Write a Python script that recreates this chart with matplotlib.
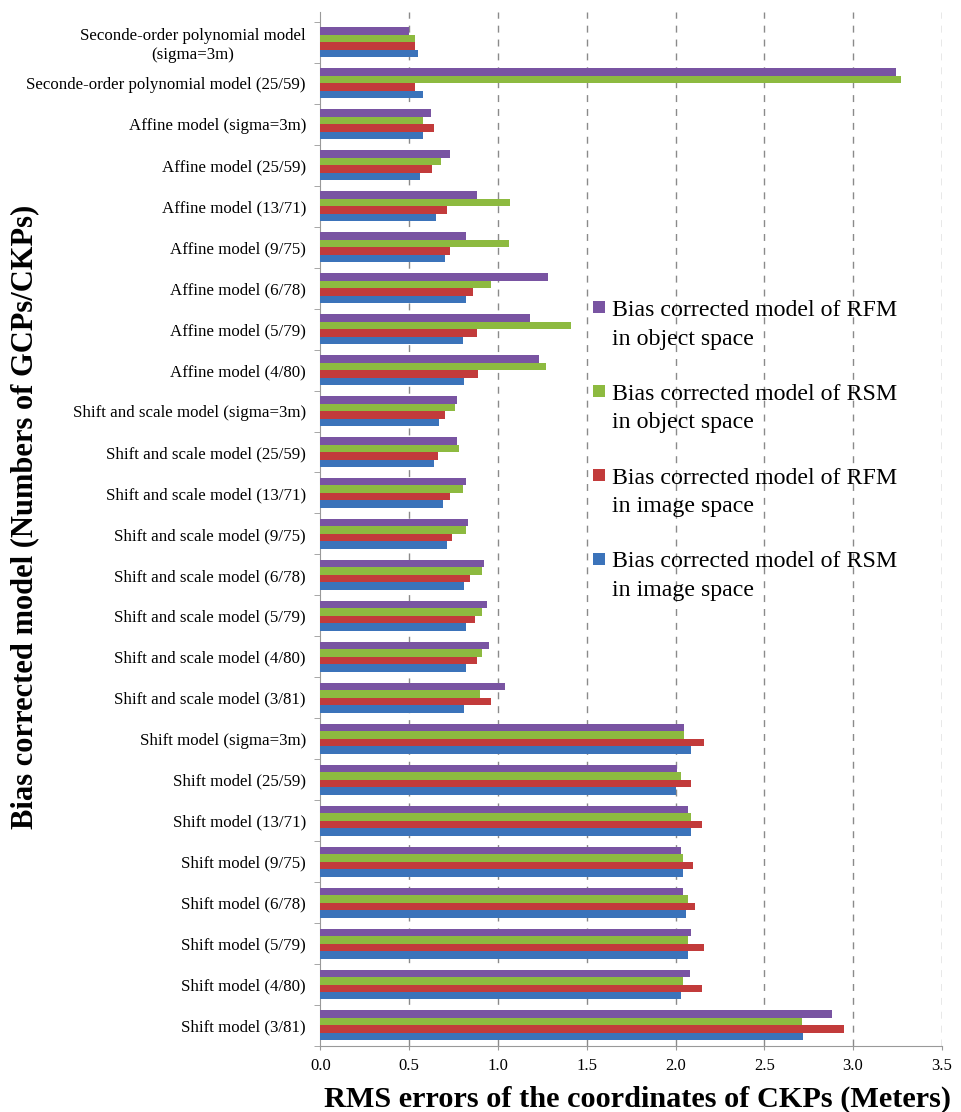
import numpy as np
import matplotlib
matplotlib.use("Agg")
import matplotlib.pyplot as plt
from matplotlib.patches import Rectangle
from matplotlib.legend_handler import HandlerPatch

plt.rcParams['font.family'] = ['Liberation Serif', 'DejaVu Serif']

# categories, top to bottom
modeller = [
    "Seconde-order polynomial model\n(sigma=3m)",
    "Seconde-order polynomial model (25/59)",
    "Affine model (sigma=3m)",
    "Affine model (25/59)",
    "Affine model (13/71)",
    "Affine model (9/75)",
    "Affine model (6/78)",
    "Affine model (5/79)",
    "Affine model (4/80)",
    "Shift and scale model (sigma=3m)",
    "Shift and scale model (25/59)",
    "Shift and scale model (13/71)",
    "Shift and scale model (9/75)",
    "Shift and scale model (6/78)",
    "Shift and scale model (5/79)",
    "Shift and scale model (4/80)",
    "Shift and scale model (3/81)",
    "Shift model (sigma=3m)",
    "Shift model (25/59)",
    "Shift model (13/71)",
    "Shift model (9/75)",
    "Shift model (6/78)",
    "Shift model (5/79)",
    "Shift model (4/80)",
    "Shift model (3/81)",
]

# RMS hatalari (metre)
rfm_obje = [0.50, 3.24, 0.62, 0.73, 0.88, 0.82, 1.28, 1.18, 1.23, 0.77, 0.77, 0.82, 0.83,
            0.92, 0.94, 0.95, 1.04, 2.05, 2.01, 2.07, 2.03, 2.04, 2.09, 2.08, 2.88]
rsm_obje = [0.53, 3.27, 0.58, 0.68, 1.07, 1.06, 0.96, 1.41, 1.27, 0.76, 0.78, 0.80, 0.82,
            0.91, 0.91, 0.91, 0.90, 2.05, 2.03, 2.09, 2.04, 2.07, 2.07, 2.04, 2.71]
rfm_goruntu = [0.53, 0.53, 0.64, 0.63, 0.71, 0.73, 0.86, 0.88, 0.89, 0.70, 0.66, 0.73, 0.74,
               0.84, 0.87, 0.88, 0.96, 2.16, 2.09, 2.15, 2.10, 2.11, 2.16, 2.15, 2.95]
rsm_goruntu = [0.55, 0.58, 0.58, 0.56, 0.65, 0.70, 0.82, 0.80, 0.81, 0.67, 0.64, 0.69, 0.71,
               0.81, 0.82, 0.82, 0.81, 2.09, 2.00, 2.09, 2.04, 2.06, 2.07, 2.03, 2.72]

seriler = [
    (rfm_obje, '#7954a2', "Bias corrected model of RFM\nin object space"),
    (rsm_obje, '#8dba40', "Bias corrected model of RSM\nin object space"),
    (rfm_goruntu, '#c23b3b', "Bias corrected model of RFM\nin image space"),
    (rsm_goruntu, '#3b73ba', "Bias corrected model of RSM\nin image space"),
]

fig = plt.figure(figsize=(9.61, 11.12), dpi=100)
ax = fig.add_axes([0.3335, 0.0594, 0.6465, 0.9301])

y = np.arange(len(modeller))
h = 0.183
for i, (deger, renk, etiket) in enumerate(seriler):
    ax.barh(y + (i - 1.5) * h, deger, height=h, color=renk,
            edgecolor='none', zorder=3)

ax.set_ylim(len(modeller) - 0.5, -0.75)
ax.set_xlim(0, 3.5)
ax.set_xticks(np.arange(0, 3.51, 0.5))
ax.set_xticklabels([f"{v:.1f}" for v in np.arange(0, 3.51, 0.5)], fontsize=12)
ax.set_yticks(y)
ax.set_yticklabels(modeller, fontsize=12.2, multialignment='center')
ax.tick_params(axis='y', length=0, pad=10.5)
ax.set_yticks(np.arange(-0.5, len(modeller), 1.0), minor=True)
ax.tick_params(axis='y', which='minor', length=4, color='#999999')
ax.tick_params(axis='x', length=3, color='#999999', pad=6)

for xg in np.arange(0.5, 3.51, 0.5):
    ax.axvline(xg, color='#8a8a8a', linestyle=(0, (5, 5)), linewidth=1.0, zorder=1)

for s in ['top', 'right']:
    ax.spines[s].set_visible(False)
for s in ['left', 'bottom']:
    ax.spines[s].set_color('#999999')

ax.set_xlabel("RMS errors of the coordinates of CKPs (Meters)", fontsize=21.8,
              fontweight='bold')
ax.xaxis.set_label_coords(0.51, -0.038)
fig.text(0.026, 0.535, "Bias corrected model (Numbers of GCPs/CKPs)", rotation=90,
         fontsize=22, fontweight='bold', ha='center', va='center')


def ust_kare(legend, orig_handle, xdescent, ydescent, width, height, fontsize):
    # kare ilk satir hizasinda dursun
    kenar = 0.5 * fontsize
    return Rectangle((-xdescent, 0.82 * fontsize), kenar, kenar)


tutamaclar = [Rectangle((0, 0), 1, 1, facecolor=r, edgecolor='none') for _, r, _ in seriler]
etiketler = [e for _, _, e in seriler]
leg = ax.legend(tutamaclar, etiketler, loc='upper left', bbox_to_anchor=(0.6045, 0.741),
                bbox_transform=fig.transFigure, frameon=False, fontsize=17.2,
                handlelength=0.5, handleheight=1.0, handletextpad=0.29,
                labelspacing=1.43, borderpad=0,
                handler_map={Rectangle: HandlerPatch(patch_func=ust_kare)})
for t in leg.get_texts():
    t.set_linespacing(1.48)

fig.savefig("out.png", dpi=100, facecolor='white')
